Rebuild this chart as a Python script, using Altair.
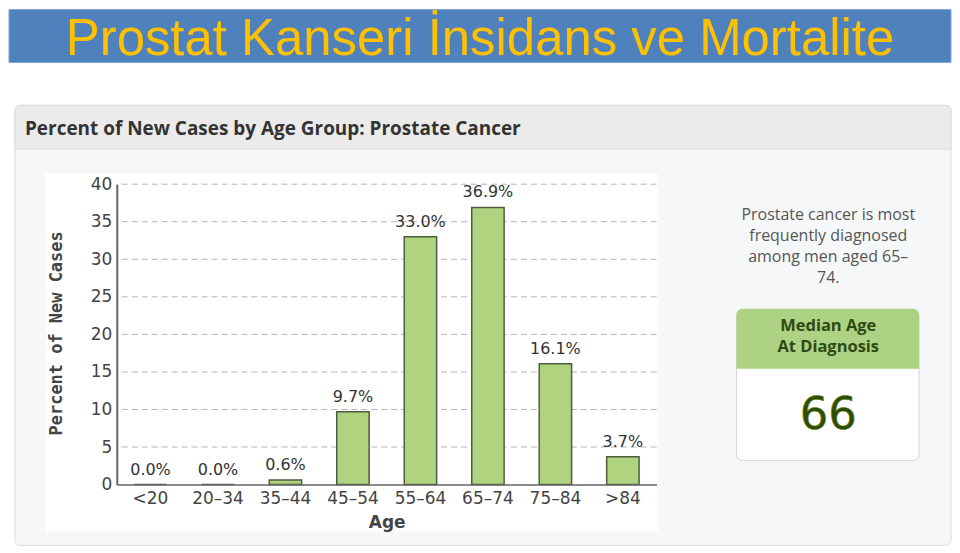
import altair as alt
import pandas as pd

# ---- data ----
AGE_GROUPS = ["<20", "20–34", "35–44", "45–54", "55–64", "65–74", "75–84", ">84"]
PERCENT = [0.0, 0.0, 0.6, 9.7, 33.0, 36.9, 16.1, 3.7]
Y_TICKS = [0, 5, 10, 15, 20, 25, 30, 35, 40]

BANNER = "Prostat Kanseri İnsidans ve Mortalite"
PANEL_TITLE = "Percent of New Cases by Age Group: Prostate Cancer"
SIDE_NOTE = ["Prostate cancer is most", "frequently diagnosed", "among men aged 65–", "74."]
MEDIAN_TITLE = ["Median Age", "At Diagnosis"]
MEDIAN_AGE = "66"

df = pd.DataFrame({
    "age": AGE_GROUPS,
    "percent": PERCENT,
    "label": [f"{v:.1f}%" for v in PERCENT],
})
grid_df = pd.DataFrame({"percent": Y_TICKS[1:]})

# plot area in page coordinates
OX, OY = 116, 183
W, H = 541, 301


def one():
    return pd.DataFrame({"_": [0]})


def rect(x1, y1, x2, y2, **kw):
    return alt.Chart(one()).mark_rect(**kw).encode(
        x=alt.value(x1 - OX), x2=alt.value(x2 - OX),
        y=alt.value(y1 - OY), y2=alt.value(y2 - OY))


def text(t, x, y, **kw):
    return alt.Chart(one()).mark_text(text=t, **kw).encode(
        x=alt.value(x - OX), y=alt.value(y - OY))


layers = []
# banner
layers.append(rect(8, 8, 952, 61, fill="#4f81bd", stroke="#7ea3cf", strokeWidth=1))
layers.append(text(BANNER, 480, 54, font="Liberation Sans", fontSize=51,
                   color="#ffc000", align="center", baseline="alphabetic"))
# panel
layers.append(rect(14, 104, 952, 545, fill="#f6f7f8", stroke="#dcdcdc",
                   strokeWidth=1, cornerRadius=5))
layers.append(rect(14, 104, 952, 148, fill="#ebebeb", stroke="#dcdcdc", strokeWidth=1,
                   cornerRadiusTopLeft=5, cornerRadiusTopRight=5))
layers.append(text(PANEL_TITLE, 24, 128, font="Open Sans", fontSize=19, fontWeight="bold",
                   color="#333333", align="left", baseline="middle"))
# chart white background
layers.append(rect(45, 172, 658, 531, fill="white"))

# side note
for i, line in enumerate(SIDE_NOTE):
    layers.append(text(line, 829, 214 + 21 * i, font="Open Sans", fontSize=16,
                       color="#555555", align="center", baseline="middle"))
# median box
layers.append(rect(737, 308, 920, 460, fill="white", stroke="#d6d6d6",
                   strokeWidth=1, cornerRadius=6))
layers.append(rect(737, 308, 920, 368, fill="#aed283",
                   cornerRadiusTopLeft=6, cornerRadiusTopRight=6))
for i, line in enumerate(MEDIAN_TITLE):
    layers.append(text(line, 829, 325 + 21 * i, font="Open Sans", fontSize=16.5,
                       fontWeight="bold", color="#2e4a13", align="center", baseline="middle"))
layers.append(text(MEDIAN_AGE, 829, 414, font="DejaVu Sans", fontSize=45,
                   color="#2b4d00", stroke="#6b7a10", strokeWidth=0.6,
                   align="center", baseline="middle"))

x_enc = alt.X(
    "age:N", sort=AGE_GROUPS,
    scale=alt.Scale(paddingInner=0.52, paddingOuter=0.26),
    axis=alt.Axis(
        title="Age", labelAngle=0, ticks=False, grid=False,
        labelFont="DejaVu Sans", labelFontSize=17, labelColor="#444444", labelPadding=6,
        titleFont="DejaVu Sans", titleFontSize=17, titleFontWeight="bold", titleColor="#444444",
        titleY=38, titleBaseline="middle",
        domainColor="#666666", domainWidth=1.5, zindex=1,
    ),
)
y_enc = alt.Y(
    "percent:Q",
    scale=alt.Scale(domain=[0, 40]),
    axis=alt.Axis(
        title="Percent of New Cases", values=Y_TICKS, ticks=False, grid=False,
        labelFont="DejaVu Sans", labelFontSize=17, labelColor="#444444", labelPadding=5,
        titleFont="DejaVu Sans Mono", titleFontSize=17, titleFontWeight="bold",
        titleColor="#444444", titleAngle=270, titleX=-60, titleY=149,
        titleAlign="center", titleBaseline="middle",
        domainColor="#666666", domainWidth=2, zindex=1,
    ),
)

# grid
grid = alt.Chart(grid_df).mark_rule(color="#b5b5b5", strokeDash=[6, 4], strokeWidth=1).encode(
    y=y_enc
)
layers.append(grid)

bars = alt.Chart(df).mark_bar(fill="#b0d380", stroke="#4d5e3c", strokeWidth=1.5).encode(
    x=x_enc, y=y_enc
)
labels = alt.Chart(df).mark_text(
    font="DejaVu Sans", fontSize=16, color="#333333", baseline="bottom", dy=-7
).encode(x=x_enc, y=y_enc, text="label:N")

layers += [bars, labels]

chart = alt.layer(*layers).properties(
    width=W, height=H, padding=0, background="white"
).configure_view(stroke=None)

chart.save("out.html", embed_options={"renderer": "svg", "actions": False})
